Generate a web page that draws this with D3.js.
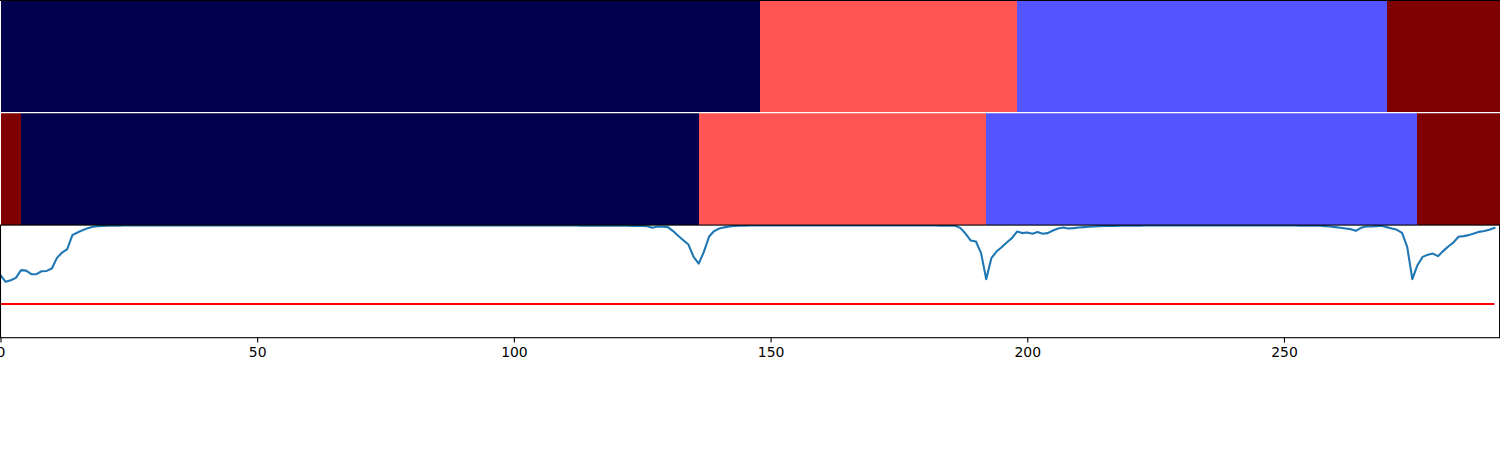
<!DOCTYPE html>
<html><head><meta charset="utf-8">
<script src="https://cdn.jsdelivr.net/npm/d3@7"></script>
<style>html,body{margin:0;padding:0;background:#fff;}svg{display:block;}</style>
</head><body>
<svg id="chart" width="1500" height="450"></svg>
<script>
const classColors = ["#00004c", "#5555ff", "#ff5555", "#7f0000"];
const topStarts = [0, 148, 198, 270];
const topClasses = [0, 2, 1, 3];
const bottomStarts = [0, 4, 136, 192, 276];
const bottomClasses = [3, 0, 2, 1, 3];
const totalLength = 292;
const threshold = 0.3;
const xTicks = [0, 50, 100, 150, 200, 250];
const confidence = [
0.555,0.496,0.510,0.531,0.600,0.596,0.564,0.564,0.590,0.593,
0.614,0.709,0.756,0.786,0.911,0.934,0.955,0.973,0.985,0.991,
0.993,0.994,0.995,0.995,0.996,0.996,0.996,0.997,0.997,0.997,
0.997,0.997,0.997,0.997,0.997,0.997,0.997,0.996,0.996,0.996,
0.996,0.996,0.996,0.997,0.997,0.997,0.997,0.997,0.997,0.997,
0.997,0.997,0.997,0.997,0.997,0.997,0.997,0.997,0.997,0.997,
0.997,0.997,0.997,0.997,0.997,0.997,0.997,0.997,0.997,0.997,
0.997,0.997,0.997,0.997,0.997,0.997,0.997,0.997,0.997,0.997,
0.997,0.997,0.997,0.997,0.997,0.997,0.997,0.997,0.997,0.997,
0.997,0.997,0.997,0.997,0.997,0.997,0.997,0.997,0.997,0.997,
0.997,0.997,0.997,0.997,0.997,0.997,0.997,0.996,0.996,0.996,
0.996,0.996,0.996,0.995,0.995,0.995,0.995,0.995,0.995,
0.994,0.994,0.994,0.994,0.993,0.993,0.992,0.990,0.976,0.988,
0.985,0.982,0.947,0.905,0.866,0.827,0.718,0.658,0.762,0.896,
0.947,0.970,
0.980,0.988,0.992,0.994,0.995,0.996,0.996,0.997,0.997,0.997,
0.997,0.997,0.997,0.997,0.997,0.997,0.997,0.997,0.997,0.997,
0.997,0.997,0.997,0.997,0.997,0.997,0.997,0.997,0.997,0.997,
0.997,0.997,0.997,0.997,0.997,0.997,0.997,0.997,0.996,0.996,
0.996,0.996,0.995,0.995,0.994,0.994,
0.973,0.923,0.863,0.854,0.751,0.520,0.706,0.765,0.804,0.845,
0.884,0.943,0.929,0.934,0.923,0.938,0.923,0.929,0.952,0.970,
0.979,0.970,0.973,0.979,0.982,0.985,0.988,0.991,
0.992,0.993,0.993,0.994,0.994,0.995,0.995,0.995,0.996,0.996,
0.996,0.996,0.997,0.997,0.997,0.997,0.997,0.997,0.997,0.997,
0.997,0.997,0.997,0.997,0.997,0.997,0.997,0.997,0.997,0.997,
0.997,0.997,0.997,0.997,0.997,0.996,0.996,0.996,0.995,0.995,
0.994,0.994,
0.994,0.991,0.988,0.982,0.976,0.970,0.964,0.949,0.976,0.988,
0.988,0.991,0.994,0.982,0.970,0.958,0.931,0.807,0.520,0.644,
0.718,0.736,0.747,0.724,0.769,0.810,0.845,0.896,0.902,0.911,
0.925,0.940,0.947,0.958,0.976
];

const svg = d3.select("#chart");
const left = 0.5, right = 1499.6;
const p1 = [0, 112.6], p2 = [112.6, 225.1], p3 = [225.1, 337.7];
const x = d3.scaleLinear().domain([0, totalLength]).range([left, right]);
const y = d3.scaleLinear().domain([0, 1]).range([p3[1], p3[0]]);

function segs(starts, classes) {
  return starts.map((s, i) => ({start: s, end: i < starts.length - 1 ? starts[i + 1] : totalLength, cls: classes[i]}));
}
function drawRow(data, band) {
  svg.append("g").selectAll("rect").data(data).join("rect")
    .attr("x", d => x(d.start))
    .attr("width", d => x(d.end) - x(d.start))
    .attr("y", band[0]).attr("height", band[1] - band[0])
    .attr("fill", d => classColors[d.cls])
    .attr("shape-rendering", "crispEdges");
}
drawRow(segs(topStarts, topClasses), p1);
drawRow(segs(bottomStarts, bottomClasses), p2);

// separators / frames
svg.append("line").attr("x1", 0).attr("x2", 1500).attr("y1", 0.5).attr("y2", 0.5)
  .attr("stroke", "#000").attr("stroke-width", 1.1);
svg.append("line").attr("x1", 0).attr("x2", 1500).attr("y1", p1[1]).attr("y2", p1[1])
  .attr("stroke", "#fff").attr("stroke-width", 1.1);

// panel 3
svg.append("clipPath").attr("id", "clip3").append("rect")
  .attr("x", left).attr("y", p3[0]).attr("width", right - left).attr("height", p3[1] - p3[0]);
const g3 = svg.append("g").attr("clip-path", "url(#clip3)");
g3.append("line")
  .attr("x1", x(0)).attr("x2", x(confidence.length - 1))
  .attr("y1", y(threshold)).attr("y2", y(threshold))
  .attr("stroke", "#ff0000").attr("stroke-width", 2.08);
g3.append("path").datum(confidence)
  .attr("d", d3.line().x((d, i) => x(i)).y(d => y(d)))
  .attr("fill", "none").attr("stroke", "#1f77b4").attr("stroke-width", 2.08)
  .attr("stroke-linejoin", "round").attr("stroke-linecap", "square");
svg.append("rect").attr("x", left).attr("y", p3[0]).attr("width", right - left).attr("height", p3[1] - p3[0])
  .attr("fill", "none").attr("stroke", "#000").attr("stroke-width", 1.1);

const axis = d3.axisBottom(x).tickValues(xTicks).tickFormat(d3.format("d"))
  .tickSize(4.9).tickPadding(4.9).tickSizeOuter(0);
const ag = svg.append("g").attr("transform", `translate(0,${p3[1]})`).call(axis);
ag.select(".domain").remove();
ag.selectAll(".tick line").attr("stroke", "#000").attr("stroke-width", 1.1);
ag.selectAll(".tick text").attr("fill", "#000")
  .style("font-family", "'DejaVu Sans', sans-serif").style("font-size", "13.9px");
</script>
</body></html>
